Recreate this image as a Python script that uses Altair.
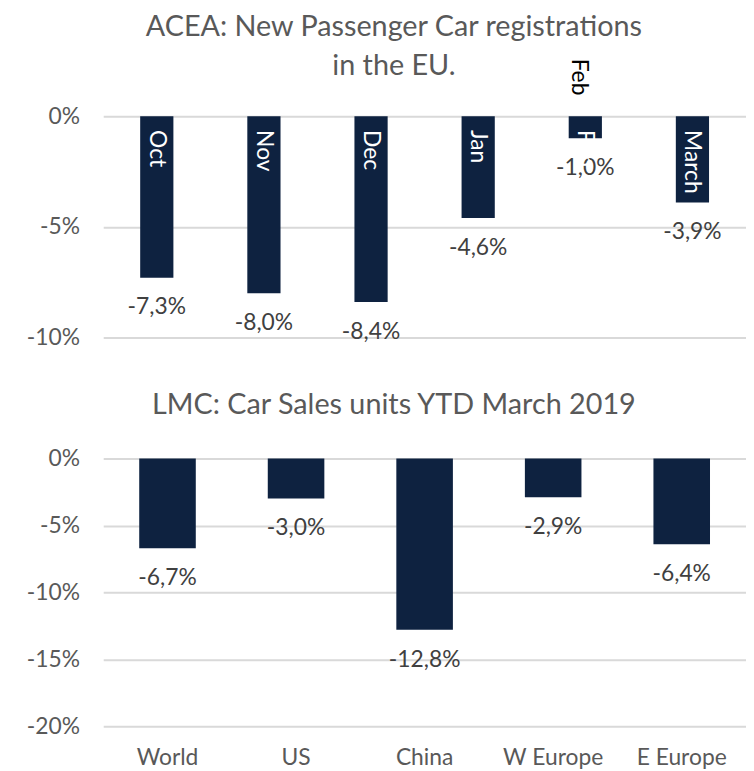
import altair as alt
import pandas as pd

# ---- data ----
months = ["Oct", "Nov", "Dec", "Jan", "Feb", "March"]
acea_values = [-7.3, -8.0, -8.4, -4.6, -1.0, -3.9]

regions = ["World", "US", "China", "W Europe", "E Europe"]
lmc_values = [-6.7, -3.0, -12.8, -2.9, -6.4]

top_title = ["ACEA: New Passenger Car registrations", "in the EU."]
bottom_title = "LMC: Car Sales units YTD March 2019"


def fmt(v):
    return f"{v:.1f}".replace(".", ",") + "%"


df1 = pd.DataFrame({"month": months, "value": acea_values,
                    "label": [fmt(v) for v in acea_values]})
df2 = pd.DataFrame({"region": regions, "value": lmc_values,
                    "label": [fmt(v) for v in lmc_values]})

BAR = "#0e2240"
GRID = "#d9d9d9"
AXC = "#595959"
VALC = "#404040"
FONT = "Lato"
FS = 23
TFS = 29
W = 648


def yaxis(vals):
    return alt.Axis(values=vals, labelExpr="datum.value + '%'", grid=True,
                    ticks=False, domain=False, title=None, gridColor=GRID,
                    gridWidth=2, labelColor=AXC, labelFont=FONT,
                    labelFontSize=FS, labelPadding=24)


# ---- top panel ----
x1 = alt.X("month:N", sort=months, axis=None,
           scale=alt.Scale(paddingInner=0.69, paddingOuter=0.345))
y1 = alt.Y("value:Q", scale=alt.Scale(domain=[-10, 0], nice=False),
           axis=yaxis([-10, -5, 0]))

base1 = alt.Chart(df1).encode(x=x1)
bars1 = base1.mark_bar(color=BAR).encode(y=y1)
vals1 = base1.mark_text(baseline="middle", dy=30, font=FONT, fontSize=FS,
                        color=VALC).encode(y="value:Q", text="label:N")
mon1 = base1.mark_text(angle=90, align="left", baseline="middle", dx=14,
                       font=FONT, fontSize=FS, color="white").encode(
    y=alt.datum(0), text="month:N")
feb1 = base1.mark_text(angle=90, align="left", baseline="middle", dx=-58,
                       dy=6, font=FONT, fontSize=FS, color="black").encode(
    y=alt.datum(0), text="month:N").transform_filter(alt.datum.month == "Feb")

top = alt.layer(bars1, vals1, mon1, feb1).properties(
    width=W, height=223,
    title=alt.TitleParams(top_title, anchor="middle", dx=-31, font=FONT,
                          fontSize=TFS, fontWeight="normal", color=AXC,
                          lineHeight=39, offset=-22))

# ---- bottom panel ----
x2 = alt.X("region:N", sort=regions,
           scale=alt.Scale(paddingInner=0.56, paddingOuter=0.28),
           axis=alt.Axis(title=None, ticks=False, domain=False, labelAngle=0,
                         labelColor=AXC, labelFont=FONT, labelFontSize=FS,
                         labelPadding=21))
y2 = alt.Y("value:Q", scale=alt.Scale(domain=[-20, 0], nice=False),
           axis=yaxis([-20, -15, -10, -5, 0]))

base2 = alt.Chart(df2).encode(x=x2)
bars2 = base2.mark_bar(color=BAR).encode(y=y2)
vals2 = base2.mark_text(baseline="middle", dy=30, font=FONT, fontSize=FS,
                        color=VALC).encode(y="value:Q", text="label:N")

bottom = alt.layer(bars2, vals2).properties(
    width=W, height=270,
    title=alt.TitleParams(bottom_title, anchor="middle", dx=-31, font=FONT,
                          fontSize=TFS, fontWeight="normal", color=AXC,
                          offset=28))

chart = alt.vconcat(top, bottom, spacing=42).properties(
    padding={"left": 18, "top": 2, "right": 0, "bottom": 0},
    background="white",
).configure_view(stroke=None)

chart.save("out.html", embed_options={"renderer": "svg", "actions": False})
